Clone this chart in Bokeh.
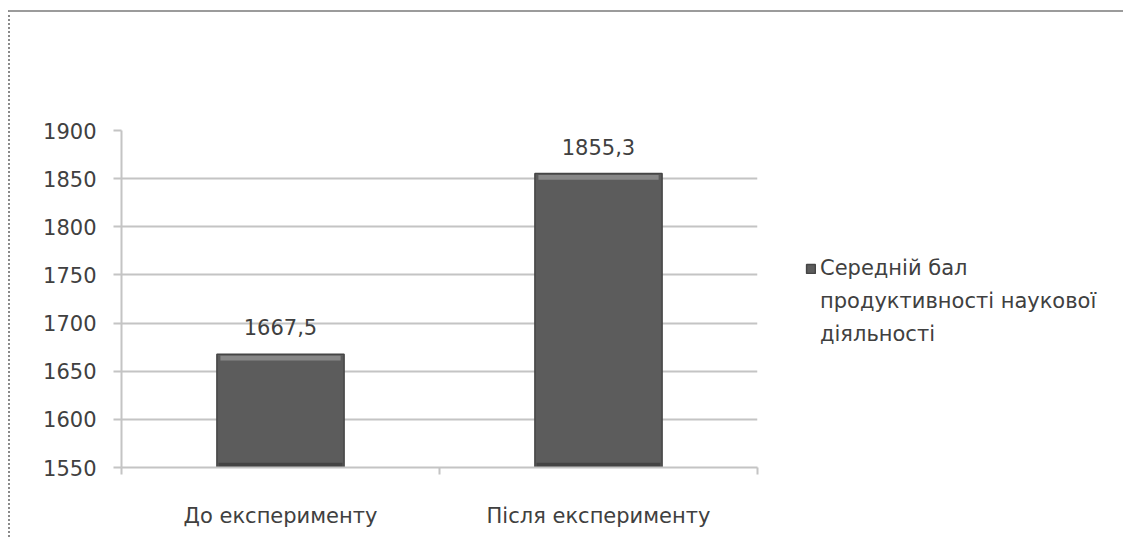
from bokeh.plotting import figure
from bokeh.models import (ColumnDataSource, FixedTicker, LabelSet, Legend, LegendItem,
                          Range1d)
from bokeh.core.properties import value
from bokeh.layouts import column
from bokeh.embed import file_html
from bokeh.resources import INLINE

# Data
categories = ["До експерименту", "Після експерименту"]
values = [1667.5, 1855.3]
series_lines = ["Середній бал", "продуктивності наукової", "діяльності"]
y_ticks = [1550, 1600, 1650, 1700, 1750, 1800, 1850, 1900]

FONT = "DejaVu Sans"
FS = "21px"
TEXT = "#404040"
GRID = "#c4c4c4"
BAR_W = 0.4

base = y_ticks[0]
xs = [i + 0.5 for i in range(len(categories))]
src = ColumnDataSource(dict(
    x=xs,
    top=values,
    label=[f"{v:.1f}".replace(".", ",") for v in values],
    # bevel bands derived from each bar's own value
    hl_top=[v - 1.5 for v in values],
    hl_bottom=[v - 6.5 for v in values],
    sh_top=[base + 5.0 for _ in values],
))

p = figure(
    output_backend="svg", toolbar_location=None,
    frame_width=636, frame_height=337,
    min_border_left=111, min_border_top=118, min_border_bottom=70, min_border_right=10,
    x_range=Range1d(0, len(categories)), y_range=Range1d(y_ticks[0], y_ticks[-1]),
    background_fill_color="white", border_fill_color="white",
)
p.outline_line_color = None

bars = p.vbar(x="x", top="top", bottom=base, width=BAR_W, source=src,
              fill_color="#5c5c5c", line_color="#454545", line_width=1.5)
# light bevel along the top, darker band along the bottom
p.vbar(x="x", top="hl_top", bottom="hl_bottom", width=BAR_W - 0.022, source=src,
       fill_color="#878787", line_color=None)
p.vbar(x="x", top="sh_top", bottom=base, width=BAR_W - 0.01, source=src,
       fill_color="#444444", line_color=None)

labels = LabelSet(x="x", y="top", text="label", source=src, text_align="center",
                  text_baseline="bottom", y_offset=19, text_font=value(FONT),
                  text_font_size=FS, text_color=TEXT)
p.add_layout(labels)

# y axis
p.yaxis.ticker = FixedTicker(ticks=y_ticks)
p.yaxis.axis_line_color = GRID
p.yaxis.axis_line_width = 2
p.yaxis.major_tick_line_color = GRID
p.yaxis.major_tick_line_width = 2
p.yaxis.major_tick_out = 8
p.yaxis.major_tick_in = 0
p.yaxis.minor_tick_line_color = None
p.yaxis.major_label_text_font = FONT
p.yaxis.major_label_text_font_size = FS
p.yaxis.major_label_text_color = TEXT
p.yaxis.major_label_standoff = 17

# x axis: category names at centres, small ticks at the category boundaries
p.xaxis.ticker = FixedTicker(ticks=xs, minor_ticks=list(range(len(categories) + 1)))
p.xaxis.major_label_overrides = {x: c for x, c in zip(xs, categories)}
p.xaxis.axis_line_color = GRID
p.xaxis.axis_line_width = 2
p.xaxis.major_tick_line_color = None
p.xaxis.minor_tick_line_color = GRID
p.xaxis.minor_tick_line_width = 2
p.xaxis.minor_tick_out = 7
p.xaxis.minor_tick_in = 0
p.xaxis.major_label_text_font = FONT
p.xaxis.major_label_text_font_size = FS
p.xaxis.major_label_text_color = TEXT
p.xaxis.major_label_standoff = 29

p.xgrid.grid_line_color = None
p.ygrid.grid_line_color = GRID
p.ygrid.grid_line_width = 2

# continuation lines of the legend entry carry no marker
blank = p.vbar(x=[], top=[], bottom=base, width=BAR_W, fill_alpha=0, line_alpha=0)
items = [LegendItem(label=series_lines[0], renderers=[bars])]
items += [LegendItem(label=t, renderers=[blank]) for t in series_lines[1:]]

legend = Legend(items=items, location=(48, 121), border_line_color=None,
                background_fill_alpha=0, label_text_font=FONT, label_text_font_size=FS,
                label_text_color=TEXT, label_height=20, spacing=9,
                glyph_width=11, glyph_height=11, label_standoff=4, padding=0, margin=0)
p.add_layout(legend, "right")

layout = column(p, styles={"border-top": "2px solid #9b9b9b",
                           "border-left": "2px dotted #8a8a8a",
                           "border-right": "1px solid #e6e6e6",
                           "margin-top": "10px", "margin-left": "8px"})

open("out.html", "w").write(file_html(layout, INLINE))
